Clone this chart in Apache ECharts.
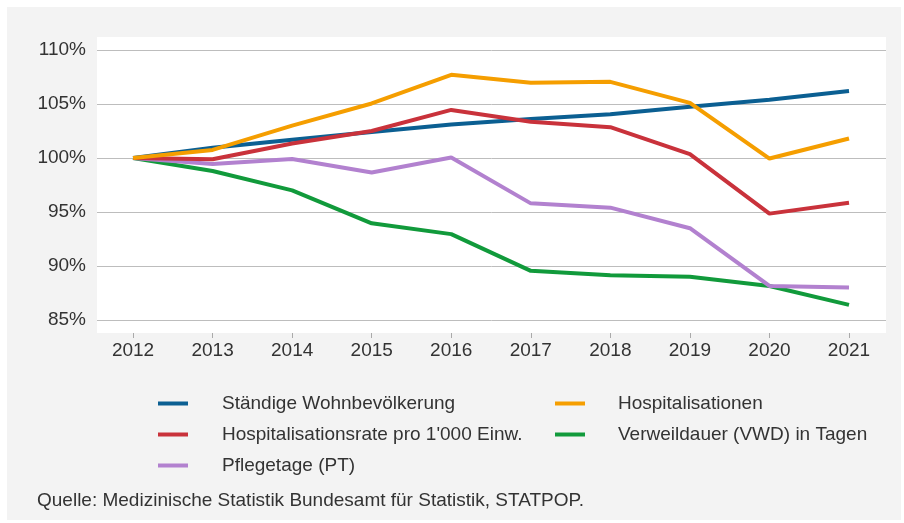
<!DOCTYPE html>
<html>
<head>
<meta charset="utf-8">
<style>
html,body{margin:0;padding:0;background:#fff;}
#c{width:904px;height:523px;}
</style>
<script src="https://cdn.jsdelivr.net/npm/echarts@6/dist/echarts.min.js"></script>
</head>
<body>
<div id="c"></div>
<script>
const years = [2012, 2013, 2014, 2015, 2016, 2017, 2018, 2019, 2020, 2021];
const yTicks = [85, 90, 95, 100, 105, 110];
const names = [
  'Ständige Wohnbevölkerung',
  'Hospitalisationen',
  'Hospitalisationsrate pro 1\'000 Einw.',
  'Verweildauer (VWD) in Tagen',
  'Pflegetage (PT)'
];
const wohnbev = [100, 100.95, 101.7, 102.4, 103.1, 103.6, 104.05, 104.75, 105.4, 106.2];
const hosp = [100, 100.75, 103.0, 105.05, 107.7, 106.97, 107.05, 105.1, 99.95, 101.8];
const hospRate = [100, 99.88, 101.35, 102.5, 104.45, 103.35, 102.85, 100.35, 94.85, 95.85];
const vwd = [100, 98.8, 97.0, 93.95, 92.95, 89.55, 89.15, 89.0, 88.15, 86.4];
const pflege = [100, 99.45, 99.9, 98.65, 100.05, 95.8, 95.4, 93.5, 88.15, 88.0];
const colors = ['#0b5f92', '#f59e00', '#c9323b', '#119a3b', '#b281cf'];
const sourceText = 'Quelle: Medizinische Statistik Bundesamt für Statistik, STATPOP.';

const seriesData = [wohnbev, hosp, hospRate, vwd, pflege];
const font = 'Liberation Sans, Arial, Helvetica, sans-serif';
const fs = 19;

const chart = echarts.init(document.getElementById('c'), null, {renderer: 'canvas'});
chart.setOption({
  backgroundColor: '#ffffff',
  animation: false,
  textStyle: {fontFamily: font},
  graphic: [
    {type: 'rect', z: -10, silent: true, shape: {x: 7, y: 7, width: 894, height: 513}, style: {fill: '#f3f3f3'}},
    {type: 'rect', z: -9, silent: true, shape: {x: 97, y: 37, width: 789, height: 296}, style: {fill: '#ffffff'}}
  ],
  title: {
    text: sourceText,
    left: 37, top: 491,
    padding: 0,
    textStyle: {fontFamily: font, fontSize: fs, fontWeight: 'normal', color: '#333'}
  },
  grid: {left: 97, right: 18, top: 50, bottom: 203, containLabel: false},
  xAxis: {
    type: 'value',
    min: 2011.547, max: 2021.465,
    offset: 13,
    axisLine: {show: false},
    splitLine: {show: false},
    axisTick: {show: true, customValues: years, length: 5, lineStyle: {color: '#aaaaaa'}},
    axisLabel: {customValues: years, margin: 8, fontSize: fs, color: '#333', fontFamily: font,
      formatter: v => String(Math.round(v))}
  },
  yAxis: {
    type: 'value',
    min: yTicks[0], max: yTicks[yTicks.length - 1], interval: 5,
    axisLine: {show: false},
    axisTick: {show: false},
    splitLine: {lineStyle: {color: '#bdbdbd', width: 1}},
    axisLabel: {margin: 11, fontSize: fs, color: '#333', fontFamily: font, formatter: v => v + '%'}
  },
  legend: [
    {
      orient: 'vertical', left: 158, top: 394, padding: 0, itemGap: 12,
      itemWidth: 30, itemHeight: 4, icon: 'rect',
      data: [names[0], names[2], names[4]],
      selectedMode: false,
      textStyle: {fontSize: fs, color: '#333', fontFamily: font, lineHeight: 19, padding: [0, 0, 0, 29]}
    },
    {
      orient: 'vertical', left: 555, top: 394, padding: 0, itemGap: 12,
      itemWidth: 30, itemHeight: 4, icon: 'rect',
      data: [names[1], names[3]],
      selectedMode: false,
      textStyle: {fontSize: fs, color: '#333', fontFamily: font, lineHeight: 19, padding: [0, 0, 0, 28]}
    }
  ],
  series: seriesData.map((arr, i) => ({
    name: names[i],
    type: 'line',
    data: arr.map((v, j) => [years[j], v]),
    showSymbol: false,
    symbol: 'none',
    color: colors[i],
    lineStyle: {width: 4, color: colors[i]},
    itemStyle: {color: colors[i]},
    z: [3, 4, 3, 2, 2][i]
  }))
});
</script>
</body>
</html>
